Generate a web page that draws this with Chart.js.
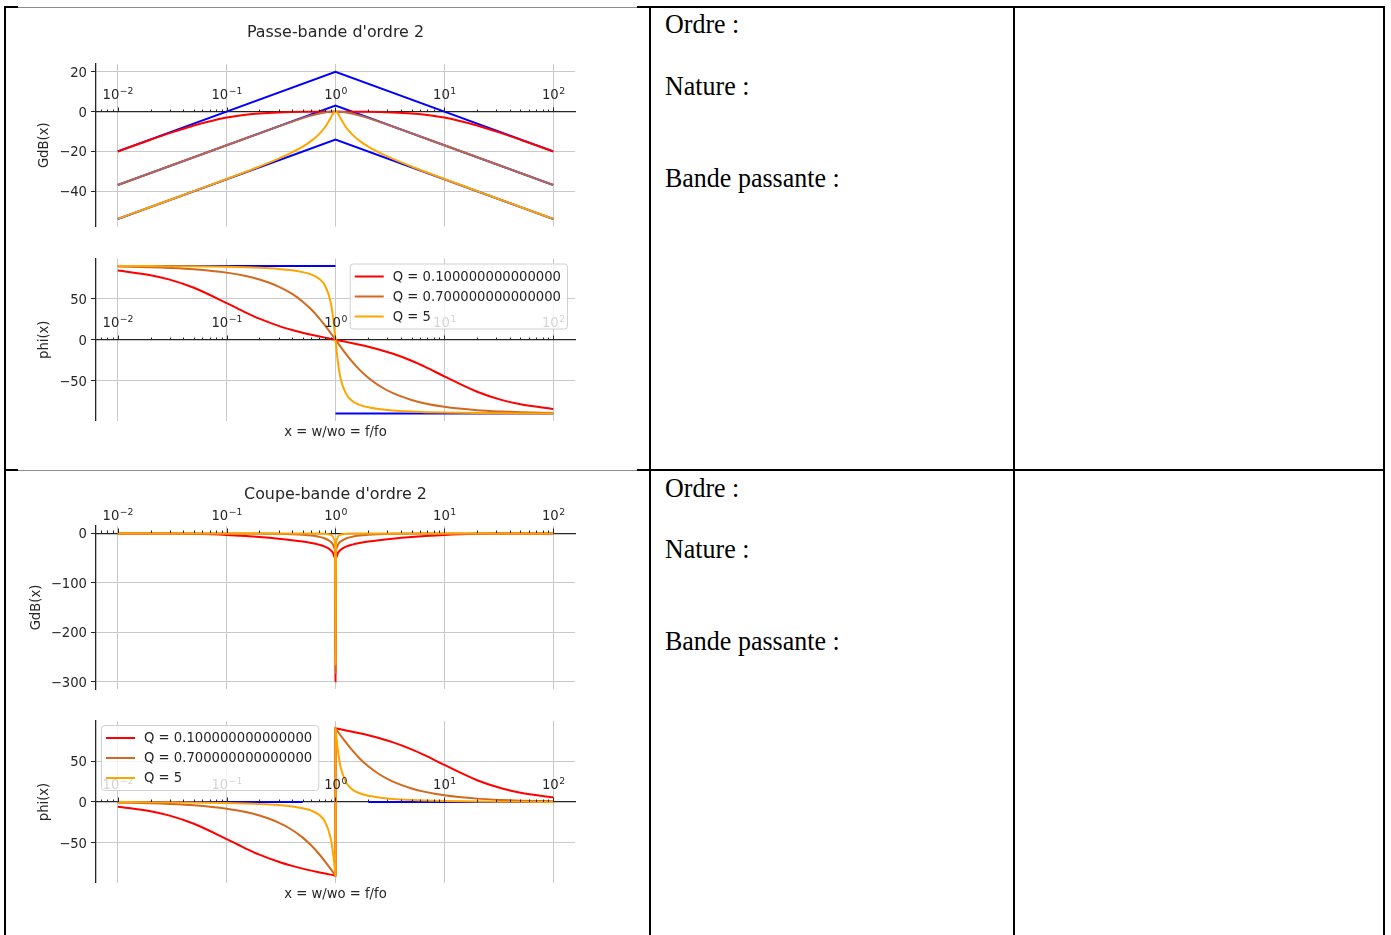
<!DOCTYPE html>
<html lang="fr">
<head>
  <meta charset="UTF-8">
  <title>Filtres d'ordre 2</title>
  <script src="https://cdn.jsdelivr.net/npm/chart.js"></script>
  <style>
    body {
      margin: 0;
      background: #fff;
      width: 1391px;
      height: 935px;
      overflow: hidden;
      position: relative;
    }
    .line { position: absolute; background: #000; }
    /* thin grey edge of the pasted plot images over the table border */
    .img-edge {
      position: absolute;
      left: 18px;
      width: 619px;
      height: 1px;
      background: #fff;
      border-bottom: 1px solid #8c8c8c;
    }
    .cell-text {
      position: absolute;
      left: 665px;
      font-family: 'Liberation Serif', 'Times New Roman', serif;
      font-size: 27.5px;
      line-height: 30px;
      color: #000;
      white-space: nowrap;
      transform: scaleX(0.945);
      transform-origin: left center;
    }
    canvas { position: absolute; left: 18px; }
  </style>
</head>
<body>
  <!-- table borders -->
  <div class="line" style="left:4px; top:6px; width:1381px; height:2px"></div>
  <div class="line" style="left:4px; top:469px; width:1381px; height:2px"></div>
  <div class="line" style="left:4px; top:6px; width:2px; height:929px"></div>
  <div class="line" style="left:649px; top:6px; width:2px; height:929px"></div>
  <div class="line" style="left:1013px; top:6px; width:2px; height:929px"></div>
  <div class="line" style="left:1383px; top:6px; width:2px; height:929px"></div>
  <div class="img-edge" style="top:6px"></div>
  <div class="img-edge" style="top:469px"></div>

  <div class="cell-text" style="top:9px">Ordre :</div>
  <div class="cell-text" style="top:71px">Nature :</div>
  <div class="cell-text" style="top:163px">Bande passante :</div>
  <div class="cell-text" style="top:473px">Ordre :</div>
  <div class="cell-text" style="top:534px">Nature :</div>
  <div class="cell-text" style="top:626px">Bande passante :</div>

  <canvas id="pbGain" width="619" height="232" style="top:8px"></canvas>
  <canvas id="pbPhase" width="619" height="205" style="top:240px"></canvas>
  <canvas id="cbGain" width="619" height="232" style="top:470px"></canvas>
  <canvas id="cbPhase" width="619" height="205" style="top:702px"></canvas>

  <script>
    // x = w/wo, shared by every curve
    const xs = [0.01, 0.02, 0.03, 0.05, 0.1, 0.15, 0.2, 0.3, 0.4, 0.5, 0.6, 0.7, 0.8, 0.9, 0.95, 0.98, 0.99,
      1, 1.0101, 1.0204, 1.0526, 1.1111, 1.25, 1.4286, 1.6667, 2, 2.5, 3.3333, 5, 6.6667, 10, 20, 33.333, 50, 100];
    // same, with the jump at x = 1 of the notch phase
    const xsCut = [0.01, 0.02, 0.03, 0.05, 0.1, 0.15, 0.2, 0.3, 0.4, 0.5, 0.6, 0.7, 0.8, 0.9, 0.95, 0.98, 0.99,
      1, 1, 1.0101, 1.0204, 1.0526, 1.1111, 1.25, 1.4286, 1.6667, 2, 2.5, 3.3333, 5, 6.6667, 10, 20, 33.333, 50, 100];

    const xDecades = [0.01, 0.1, 1, 10, 100];
    const xLabelBase = '10';
    const xLabelExp = ['\u22122', '\u22121', '0', '1', '2'];
    const qLabels = ['Q = 0.100000000000000', 'Q = 0.700000000000000', 'Q = 5'];

    const gainTicksPB = [20, 0, -20, -40];
    const gainTicksCB = [0, -100, -200, -300];
    const phaseTicks = [50, 0, -50];

    // passe-bande : gain (dB)
    const pbGain01 = [-20.04, -14.15, -10.82, -6.97, -2.97, -1.54, -0.90, -0.38, -0.19, -0.10, -0.05, -0.02, -0.01, 0, 0, 0, 0,
      0, 0, 0, 0, 0, -0.01, -0.02, -0.05, -0.10, -0.19, -0.38, -0.90, -1.54, -2.97, -6.97, -10.82, -14.15, -20.04];
    const pbGain07 = [-36.90, -30.88, -27.36, -22.92, -16.90, -13.39, -10.90, -7.41, -5.00, -3.23, -1.92, -1.00, -0.41, -0.09, -0.02, 0, 0,
      0, 0, 0, -0.02, -0.09, -0.41, -1.00, -1.92, -3.23, -5.00, -7.41, -10.90, -13.39, -16.90, -22.92, -27.36, -30.88, -36.90];
    const pbGain5 = [-53.98, -47.96, -44.43, -39.98, -33.89, -30.26, -27.61, -23.64, -20.46, -17.58, -14.69, -11.54, -7.83, -3.25, -1.02, -0.17, -0.04,
      0, -0.04, -0.17, -1.02, -3.25, -7.83, -11.54, -14.69, -17.58, -20.46, -23.64, -27.61, -30.26, -33.89, -39.98, -44.43, -47.96, -53.98];
    const pbAsymX = [0.01, 1, 100];
    const pbAsym01 = [-20, 20, -20];
    const pbAsym07 = [-36.9, 3.1, -36.9];
    const pbAsym5 = [-54, -14, -54];

    // passe-bande : phase (deg)
    const pbPhase01 = [84.29, 78.69, 73.29, 63.38, 44.71, 33.09, 25.64, 16.87, 11.86, 8.53, 6.09, 4.17, 2.58, 1.21, 0.59, 0.23, 0.12,
      0, -0.12, -0.23, -0.59, -1.21, -2.58, -4.17, -6.09, -8.53, -11.86, -16.87, -25.64, -33.09, -44.71, -63.38, -73.29, -78.69, -84.29];
    const pbPhase07 = [89.18, 88.36, 87.54, 85.90, 81.79, 77.64, 73.43, 64.78, 55.78, 46.40, 36.75, 27.02, 17.48, 8.41, 4.11, 1.62, 0.81,
      0, -0.81, -1.62, -4.11, -8.41, -17.48, -27.02, -36.75, -46.40, -55.78, -64.78, -73.43, -77.64, -81.79, -85.90, -87.54, -88.36, -89.18];
    const pbPhase5 = [89.89, 89.77, 89.66, 89.43, 88.84, 88.24, 87.61, 86.23, 84.56, 82.41, 79.38, 74.65, 66.04, 46.55, 27.17, 11.42, 5.74,
      0, -5.74, -11.42, -27.17, -46.55, -66.04, -74.65, -79.38, -82.41, -84.56, -86.23, -87.61, -88.24, -88.84, -89.43, -89.66, -89.77, -89.89];
    const pbPhaseAsymX = [0.01, 1, 1, 1, 100];
    const pbPhaseAsym = [90, 90, null, -90, -90];

    // coupe-bande : gain (dB)
    const cbGain01 = [-0.04, -0.17, -0.38, -0.97, -3.05, -5.26, -7.28, -10.74, -13.74, -16.58, -19.49, -22.77, -26.94, -33.51, -39.78, -47.87, -53.94,
      -300, -53.94, -47.87, -39.78, -33.51, -26.94, -22.77, -19.49, -16.58, -13.74, -10.74, -7.28, -5.26, -3.05, -0.97, -0.38, -0.17, -0.04];
    const cbGain07 = [0, 0, -0.01, -0.02, -0.09, -0.20, -0.37, -0.87, -1.65, -2.80, -4.46, -6.85, -10.44, -16.70, -22.90, -30.97, -37.03,
      -283, -37.03, -30.97, -22.90, -16.70, -10.44, -6.85, -4.46, -2.80, -1.65, -0.87, -0.37, -0.20, -0.09, -0.02, -0.01, 0, 0];
    const cbGain5 = [0, 0, 0, 0, 0, 0, -0.01, -0.02, -0.04, -0.08, -0.15, -0.31, -0.78, -2.78, -6.81, -14.07, -20.00,
      -266, -20.00, -14.07, -6.81, -2.78, -0.78, -0.31, -0.15, -0.08, -0.04, -0.02, -0.01, 0, 0, 0, 0, 0, 0];

    // coupe-bande : phase (deg)
    const cbPhase01 = [-5.71, -11.31, -16.71, -26.62, -45.29, -56.91, -64.36, -73.13, -78.14, -81.47, -83.91, -85.83, -87.42, -88.79, -89.41, -89.77, -89.88,
      -90, 90, 89.88, 89.77, 89.41, 88.79, 87.42, 85.83, 83.91, 81.47, 78.14, 73.13, 64.36, 56.91, 45.29, 26.62, 16.71, 11.31, 5.71];
    const cbPhase07 = [-0.82, -1.64, -2.46, -4.10, -8.21, -12.36, -16.57, -25.22, -34.22, -43.60, -53.25, -62.98, -72.52, -81.59, -85.89, -88.38, -89.19,
      -90, 90, 89.19, 88.38, 85.89, 81.59, 72.52, 62.98, 53.25, 43.60, 34.22, 25.22, 16.57, 12.36, 8.21, 4.10, 2.46, 1.64, 0.82];
    const cbPhase5 = [-0.11, -0.23, -0.34, -0.57, -1.16, -1.76, -2.39, -3.77, -5.44, -7.59, -10.62, -15.35, -23.96, -43.45, -62.83, -78.58, -84.26,
      -90, 90, 84.26, 78.58, 62.83, 43.45, 23.96, 15.35, 10.62, 7.59, 5.44, 3.77, 2.39, 1.76, 1.16, 0.57, 0.34, 0.23, 0.11];
    const cbPhaseAsymX = [0.01, 0.5, 1, 2, 100];
    const cbPhaseAsym = [0, 0, null, 0, 0];

    const RED = '#ff0000';
    const CHOCO = '#d2691e';
    const ORANGE = '#ffa500';
    const BLUE = '#0000ff';
    const TEXT = '#262626';
    const GRID = '#c9c9c9';
    const AXIS = '#262626';
    const qColors = [RED, CHOCO, ORANGE];

    Chart.defaults.font.family = '"DejaVu Sans", sans-serif';
    Chart.defaults.color = TEXT;

    // x tick marks and 10^n labels sit above the y = 0 axis line
    const xAxisDecor = {
      id: 'xAxisDecor',
      afterDatasetsDraw(chart) {
        const { ctx, scales: { x, y } } = chart;
        const y0 = Math.round(y.getPixelForValue(0));
        ctx.save();
        ctx.strokeStyle = AXIS;
        ctx.lineWidth = 1;
        for (let e = -3; e <= 2; e++) {
          for (let m = 1; m <= 9; m++) {
            const v = m * Math.pow(10, e);
            if (v < x.min || v > x.max) continue;
            const px = Math.round(x.getPixelForValue(v)) + 0.5;
            const len = m === 1 ? 4.5 : 2.5;
            ctx.beginPath();
            ctx.moveTo(px, y0);
            ctx.lineTo(px, y0 - len);
            ctx.stroke();
          }
        }
        ctx.fillStyle = TEXT;
        ctx.textAlign = 'left';
        ctx.textBaseline = 'alphabetic';
        const baseFont = '13.2px "DejaVu Sans"';
        const expFont = '9.3px "DejaVu Sans"';
        xDecades.forEach((v, i) => {
          ctx.font = baseFont;
          const wb = ctx.measureText(xLabelBase).width;
          ctx.font = expFont;
          const we = ctx.measureText(xLabelExp[i]).width;
          const start = x.getPixelForValue(v) - (wb + we) / 2;
          ctx.font = baseFont;
          ctx.fillText(xLabelBase, start, y0 - 13);
          ctx.font = expFont;
          ctx.fillText(xLabelExp[i], start + wb + 0.5, y0 - 18.5);
        });
        ctx.restore();
      }
    };

    // matplotlib-like legend box inside the plot
    const qLegend = {
      id: 'qLegend',
      afterDraw(chart, args, opts) {
        if (!opts.side) return;
        const { ctx, chartArea } = chart;
        ctx.save();
        ctx.font = '13.2px "DejaVu Sans"';
        const textW = Math.max(...qLabels.map(t => ctx.measureText(t).width));
        const w = 43 + textW + 6;
        const h = 65;
        const left = opts.side === 'right' ? chartArea.right - 8 - w : chartArea.left + 5;
        const top = chartArea.top + opts.top;
        ctx.beginPath();
        ctx.roundRect(left + 0.5, top + 0.5, w, h, 3);
        ctx.fillStyle = 'rgba(255,255,255,0.8)';
        ctx.fill();
        ctx.strokeStyle = '#d0d0d0';
        ctx.lineWidth = 1;
        ctx.stroke();
        qLabels.forEach((t, i) => {
          const ly = top + 13 + 20 * i;
          ctx.beginPath();
          ctx.moveTo(left + 5, ly);
          ctx.lineTo(left + 34, ly);
          ctx.strokeStyle = qColors[i];
          ctx.lineWidth = 2;
          ctx.stroke();
          ctx.fillStyle = TEXT;
          ctx.textAlign = 'left';
          ctx.textBaseline = 'middle';
          ctx.fillText(t, left + 43, ly + 1);
        });
        ctx.restore();
      }
    };

    function series(xv, yv, color, order, smooth) {
      return {
        data: xv.map((x, i) => ({ x: x, y: yv[i] })),
        borderColor: color,
        borderWidth: 2,
        pointRadius: 0,
        tension: 0,
        cubicInterpolationMode: smooth ? 'monotone' : 'default',
        fill: false,
        spanGaps: false,
        order: order
      };
    }
    const curve = (xv, yv, color, order) => series(xv, yv, color, order, true);

    function makeChart(id, cfg) {
      return new Chart(document.getElementById(id), {
        type: 'line',
        data: { datasets: cfg.datasets },
        plugins: [xAxisDecor, qLegend],
        options: {
          responsive: false,
          animation: false,
          devicePixelRatio: 1,
          layout: { padding: cfg.padding },
          scales: {
            x: {
              type: 'logarithmic',
              min: 0.00631,
              max: 158.5,
              bounds: 'data',
              position: { y: 0 },
              afterBuildTicks: s => { s.ticks = xDecades.map(v => ({ value: v })); },
              ticks: { display: false },
              grid: { color: GRID, lineWidth: 1, drawTicks: false },
              border: { display: true, color: AXIS, width: 1.3 }
            },
            y: {
              type: 'linear',
              min: cfg.yMin,
              max: cfg.yMax,
              bounds: 'data',
              position: 'left',
              afterBuildTicks: s => { s.ticks = cfg.yTicks.map(v => ({ value: v })); },
              afterFit: s => { s.width = 78; },
              ticks: {
                font: { size: 13.2 },
                color: TEXT,
                padding: 4,
                labelOffset: 1.5,
                callback: v => String(v).replace('-', '\u2212')
              },
              grid: { color: GRID, lineWidth: 1, tickLength: 5, tickColor: AXIS, tickWidth: 1 },
              border: { display: true, color: AXIS, width: 1.3 },
              title: {
                display: true,
                text: cfg.yTitle,
                font: { size: 13.2 },
                color: TEXT,
                padding: { top: cfg.yTitlePad, bottom: 0 }
              }
            }
          },
          plugins: {
            legend: { display: false },
            tooltip: { enabled: false },
            title: cfg.title ? {
              display: true,
              text: cfg.title,
              fullSize: false,
              font: { size: 15.9, weight: 'normal' },
              color: TEXT,
              padding: { top: 15.5, bottom: 21.4 }
            } : { display: false },
            subtitle: cfg.xTitle ? {
              display: true,
              text: cfg.xTitle,
              position: 'bottom',
              fullSize: false,
              font: { size: 13.2, weight: 'normal' },
              color: TEXT,
              padding: { top: 3.5, bottom: 4.7 }
            } : { display: false },
            qLegend: { side: cfg.legendSide || null, top: cfg.legendTop || 5 }
          }
        }
      });
    }

    makeChart('pbGain', {
      title: "Passe-bande d'ordre 2",
      yTitle: 'GdB(x)', yTitlePad: 19,
      yMin: -57.8, yMax: 24, yTicks: gainTicksPB,
      padding: { top: 0, right: 62, bottom: 13.5, left: 0 },
      datasets: [
        series(pbAsymX, pbAsym01, BLUE, 4),
        series(pbAsymX, pbAsym07, BLUE, 4),
        series(pbAsymX, pbAsym5, BLUE, 4),
        curve(xs, pbGain01, RED, 3),
        curve(xs, pbGain07, '#bd6a44', 2),
        curve(xs, pbGain5, ORANGE, 1)
      ]
    });

    makeChart('pbPhase', {
      xTitle: 'x = w/wo = f/fo',
      yTitle: 'phi(x)', yTitlePad: 19,
      yMin: -99, yMax: 99, yTicks: phaseTicks,
      padding: { top: 18.5, right: 62, bottom: 0, left: 0 },
      legendSide: 'right', legendTop: 5,
      datasets: [
        series(pbPhaseAsymX, pbPhaseAsym, BLUE, 4),
        curve(xs, pbPhase01, RED, 3),
        curve(xs, pbPhase07, CHOCO, 2),
        curve(xs, pbPhase5, ORANGE, 1)
      ]
    });

    makeChart('cbGain', {
      title: "Coupe-bande d'ordre 2",
      yTitle: 'GdB(x)', yTitlePad: 11,
      yMin: -315, yMax: 15, yTicks: gainTicksCB,
      padding: { top: 0, right: 62, bottom: 13, left: 0 },
      datasets: [
        curve(xs, cbGain01, RED, 3),
        curve(xs, cbGain07, CHOCO, 2),
        curve(xs, cbGain5, ORANGE, 1)
      ]
    });

    makeChart('cbPhase', {
      xTitle: 'x = w/wo = f/fo',
      yTitle: 'phi(x)', yTitlePad: 19,
      yMin: -99, yMax: 99, yTicks: phaseTicks,
      padding: { top: 19, right: 62, bottom: 0, left: 0 },
      legendSide: 'left', legendTop: 4,
      datasets: [
        series(cbPhaseAsymX, cbPhaseAsym, BLUE, 4),
        curve(xsCut, cbPhase01, RED, 3),
        curve(xsCut, cbPhase07, CHOCO, 2),
        curve(xsCut, cbPhase5, ORANGE, 1)
      ]
    });
  </script>
</body>
</html>
